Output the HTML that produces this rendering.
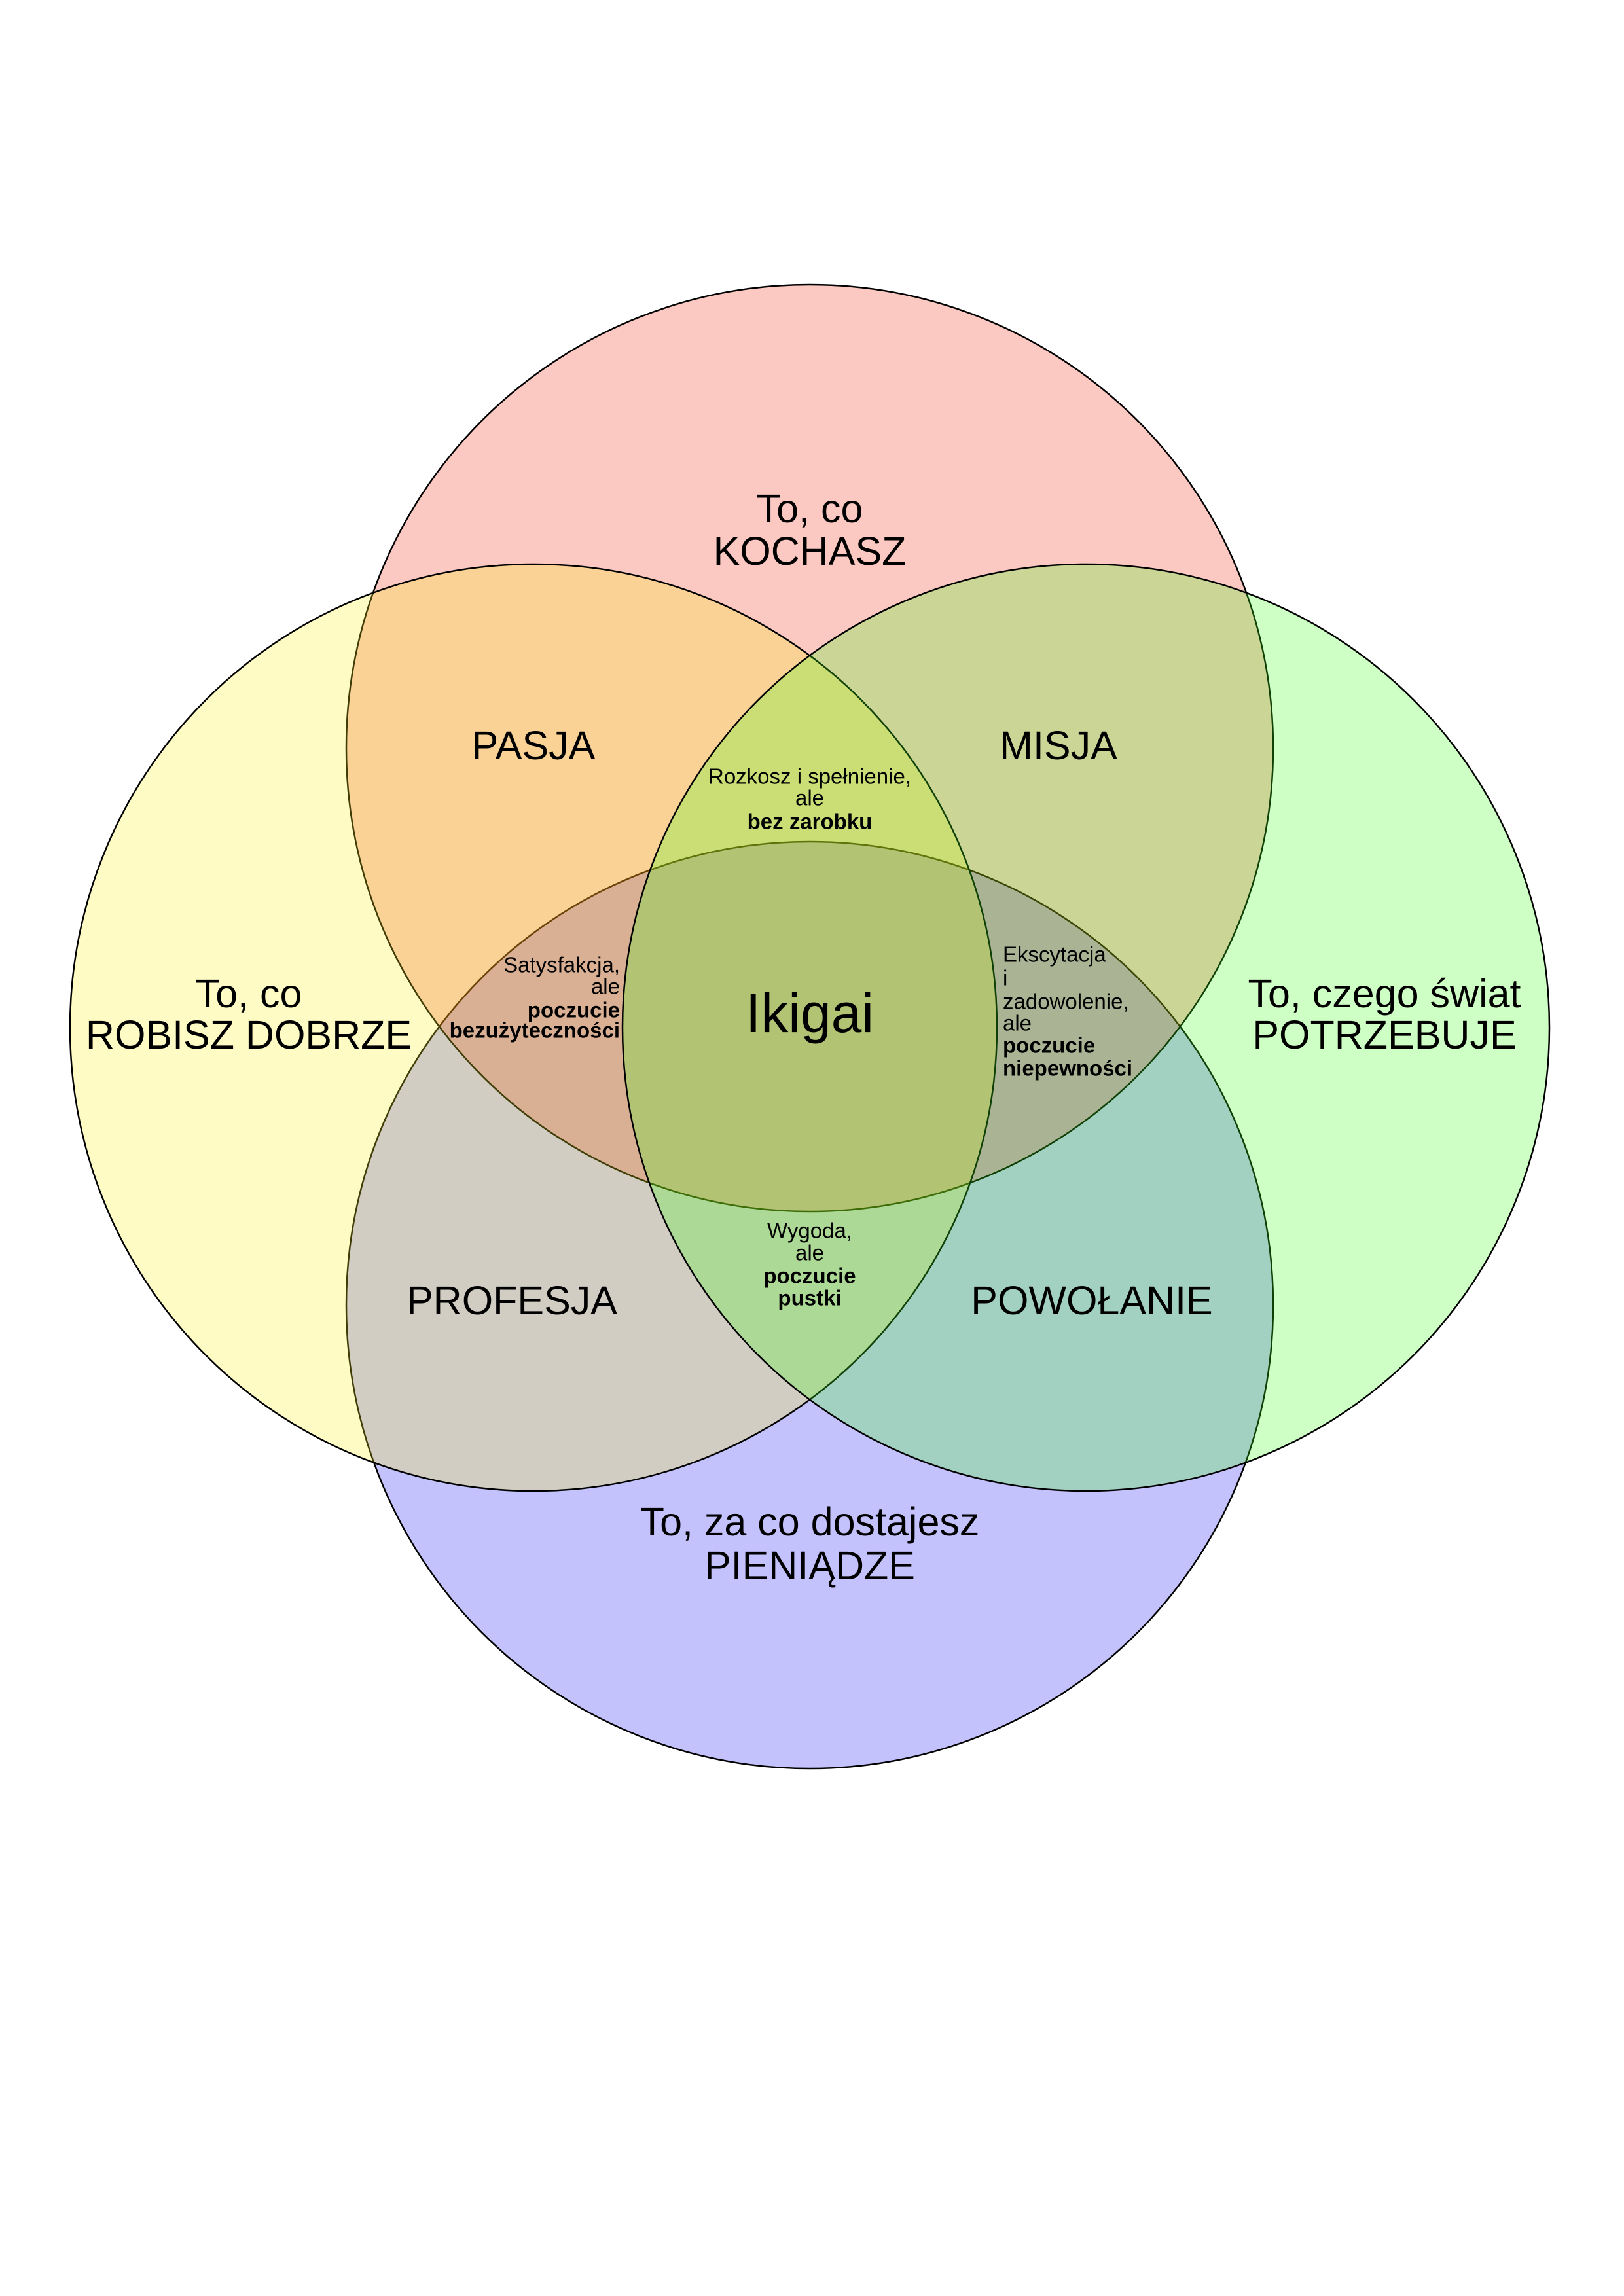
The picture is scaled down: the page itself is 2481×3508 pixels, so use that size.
<!DOCTYPE html>
<html><head><meta charset="utf-8"><style>html,body{margin:0;padding:0;background:#fff}svg{display:block}text{font-family:"Liberation Sans",sans-serif;fill:#000}</style></head>
<body>
<svg width="2481" height="3508" viewBox="0 0 2481 3508">
<g>
<circle cx="1237" cy="1994" r="708" fill="rgb(20,10,245)" fill-opacity="0.25" stroke="#000" stroke-width="2.5"/>
<circle cx="1237" cy="1143" r="708" fill="rgb(240,40,10)" fill-opacity="0.25" stroke="#000" stroke-width="2.5"/>
<circle cx="815" cy="1570" r="708" fill="rgb(250,240,20)" fill-opacity="0.25" stroke="#000" stroke-width="2.5"/>
<circle cx="1659" cy="1570" r="708" fill="rgb(60,255,20)" fill-opacity="0.25" stroke="#000" stroke-width="2.5"/>
</g>
<g font-size="61" text-anchor="middle" dominant-baseline="central">
<text x="1237" y="777">To, co</text>
<text x="1237" y="842">KOCHASZ</text>
<text x="815" y="1139">PASJA</text>
<text x="1617" y="1139">MISJA</text>
<text x="380" y="1518">To, co</text>
<text x="380" y="1581">ROBISZ DOBRZE</text>
<text x="2115" y="1518">To, czego świat</text>
<text x="2115" y="1581">POTRZEBUJE</text>
<text x="782" y="1987">PROFESJA</text>
<text x="1668" y="1987">POWOŁANIE</text>
<text x="1237" y="2325">To, za co dostajesz</text>
<text x="1237" y="2392">PIENIĄDZE</text>
<text x="1237" y="1548" font-size="84">Ikigai</text>
</g>
<g font-size="33" dominant-baseline="central">
<g text-anchor="middle">
<text x="1237" y="1186">Rozkosz i spełnienie,</text>
<text x="1237" y="1219">ale</text>
<text x="1237" y="1255" font-weight="bold">bez zarobku</text>
<text x="1237" y="1880">Wygoda,</text>
<text x="1237" y="1914">ale</text>
<text x="1237" y="1949" font-weight="bold">poczucie</text>
<text x="1237" y="1983" font-weight="bold">pustki</text>
</g>
<g text-anchor="end">
<text x="947" y="1474">Satysfakcja,</text>
<text x="947" y="1507">ale</text>
<text x="947" y="1543" font-weight="bold">poczucie</text>
<text x="947" y="1574" font-weight="bold">bezużyteczności</text>
</g>
<g text-anchor="start">
<text x="1532" y="1458">Ekscytacja</text>
<text x="1532" y="1494">i</text>
<text x="1532" y="1530">zadowolenie,</text>
<text x="1532" y="1563">ale</text>
<text x="1532" y="1597" font-weight="bold">poczucie</text>
<text x="1532" y="1632" font-weight="bold">niepewności</text>
</g>
</g>
</svg>
</body></html>
